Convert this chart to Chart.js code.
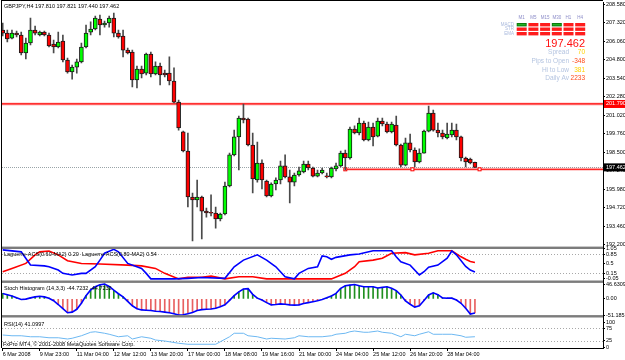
<!DOCTYPE html>
<html lang="en">
<head>
<meta charset="UTF-8">
<title>GBPJPY,H4</title>
<script src="https://cdn.jsdelivr.net/npm/chart.js@4.4.1/dist/chart.umd.min.js"></script>
<style>
  body { margin: 0; background: #fff; }
  .wrap { position: relative; width: 625px; height: 360px; }
</style>
</head>
<body>
<div class="wrap"><canvas id="mt4Chart" width="625" height="360"></canvas></div>
<script>
// GBPJPY H4 candles
const opens = [206.84,206.63,206.29,206.63,206.50,205.27,205.95,206.84,206.50,206.70,
  206.50,205.88,205.68,206.09,204.79,203.97,204.31,204.66,205.68,206.70,
  206.91,207.59,207.18,207.32,207.66,206.63,206.43,205.47,205.34,203.43,
  204.18,203.90,205.20,203.84,204.38,203.90,203.90,203.36,201.92,199.88,
  198.58,195.44,195.24,195.44,194.48,194.35,194.35,193.94,194.28,196.19,
  198.31,199.54,200.83,200.76,198.99,196.60,197.76,196.53,195.51,196.33,
  196.60,197.56,196.81,196.46,196.94,197.15,197.69,197.42,196.87,197.08,
  196.87,196.81,197.35,197.56,198.44,198.10,200.08,199.81,200.49,199.33,
  200.22,199.60,200.63,200.42,199.88,200.35,198.99,197.62,199.13,198.65,
  197.83,198.44,199.94,201.17,200.01,199.81,199.47,199.67,200.01,199.54,
  198.10,198.03,197.81];
const highs = [207.32,206.84,206.84,206.77,206.70,206.29,207.66,207.11,206.77,206.77,
  206.63,206.16,206.70,206.50,204.93,204.45,204.86,205.95,207.18,207.39,
  207.79,207.86,207.45,207.79,208.00,206.84,206.84,205.61,205.47,204.38,
  204.38,205.27,205.34,204.66,204.59,204.11,205.00,204.25,202.06,199.94,
  199.81,195.71,196.60,195.51,194.69,195.58,194.76,194.35,196.46,198.44,
  200.01,200.97,201.79,200.83,199.81,199.19,197.97,196.60,196.40,196.74,
  197.90,198.31,197.28,197.08,197.49,197.90,197.90,197.49,197.28,197.42,
  197.08,197.49,197.76,198.58,198.65,200.22,200.29,200.83,200.63,200.56,
  200.49,200.83,200.83,200.56,200.56,200.97,199.06,199.47,199.74,198.79,
  198.72,200.01,201.65,201.38,200.49,200.01,200.49,200.49,200.42,199.60,
  198.17,198.10,197.821];
const lows = [206.43,206.02,206.23,206.36,205.13,204.86,205.82,206.50,206.43,206.43,
  205.68,205.27,205.61,204.66,203.90,203.49,203.90,204.59,205.61,206.50,
  206.84,206.50,207.04,207.04,206.36,206.29,205.00,205.20,202.95,202.88,
  203.56,203.77,203.63,203.77,203.09,203.63,203.09,201.86,200.01,198.51,
  194.76,192.44,194.76,192.57,194.07,194.14,193.32,193.80,194.21,196.12,
  198.24,197.28,200.49,198.92,195.71,196.46,195.99,195.44,195.44,195.92,
  196.33,196.74,195.03,196.19,196.87,197.08,197.28,196.81,196.81,197.01,
  196.74,196.74,197.22,197.49,197.28,198.03,199.74,199.67,199.26,199.26,
  198.92,199.54,200.29,199.81,199.81,198.92,197.49,197.56,198.51,197.49,
  197.76,198.44,199.88,199.94,199.54,199.40,199.40,199.54,199.33,197.90,
  197.49,197.69,197.44];
const closes = [206.63,206.23,206.63,206.50,205.27,205.95,206.84,206.63,206.70,206.50,
  205.75,205.68,206.02,204.79,203.97,204.31,204.66,205.68,206.63,206.91,
  207.66,207.18,207.32,207.66,206.63,206.36,205.47,205.27,203.43,204.18,
  203.84,205.20,203.84,204.38,203.77,203.77,203.36,201.92,200.15,198.58,
  195.44,195.24,195.44,194.48,194.35,194.33,193.94,194.28,196.19,198.31,
  199.54,200.83,200.70,198.99,196.67,197.76,196.60,195.51,196.33,196.60,
  197.56,196.81,196.46,196.94,197.22,197.69,197.42,196.87,197.08,197.28,
  196.81,197.42,197.56,198.44,198.10,200.08,199.81,200.49,199.33,200.22,
  199.54,200.63,200.42,199.88,200.42,198.99,197.62,199.13,198.65,197.83,
  198.44,199.94,201.17,200.01,199.81,199.54,199.74,200.01,199.54,198.10,
  197.83,197.76,197.462];

// time axis labels (every 8 bars)
const xTickBars = [0,8,16,24,32,40,48,56,64,72,80,88,96];
const xTickLabels = ['6 Mar 2008','9 Mar 23:00','11 Mar 04:00','12 Mar 12:00','13 Mar 20:00',
  '17 Mar 00:00','18 Mar 08:00','19 Mar 16:00','21 Mar 00:00','24 Mar 04:00',
  '25 Mar 12:00','26 Mar 20:00','28 Mar 04:00'];

// price axis labels
const priceTicks = [208.58,207.32,206.06,204.80,203.54,202.28,201.02,199.76,198.50,197.24,195.98,194.72,193.46,192.20];

// Laguerre ACS lines, [bar, value]
const lagFast = [[0,1.0],[4,0.93],[6,0.45],[9,0.42],[10,0.39],[12,0.27],[13,0.15],[15,0.09],[17,0.15],[18,0.15],
  [20,0.39],[21,0.63],[22,0.88],[24,1.02],[25,0.93],[27,0.51],[30,0.33],[31,0.15],[32,-0.05],[37,-0.05],
  [40,-0.03],[43,0],[48,-0.03],[50,0.39],[52,0.63],[55,0.82],[57,0.63],[59,0.39],[61,0.03],[63,-0.05],
  [64,0.15],[66,0.33],[68,0.39],[69,0.78],[70,0.75],[71,0.66],[72,0.73],[75,0.82],[77,0.85],[80,0.97],
  [84,0.97],[85,0.75],[86,0.57],[88,0.45],[90,0.09],[91,0.21],[92,0.37],[94,0.45],[96,0.70],[97,0.96],
  [98,0.82],[100,0.40],[101,0.27],[102,0.20]];
const lagSlow = [[0,0.21],[2,0.33],[5,0.51],[7,0.82],[8,0.93],[10,0.96],[12,0.82],[14,0.61],[17,0.51],[21,0.49],
  [27,0.45],[30,0.42],[33,0.33],[35,0.15],[38,-0.05],[40,0.01],[43,0.01],[45,0.05],[48,-0.05],[51,0.03],
  [54,0.03],[57,-0.05],[71,-0.05],[74,0.15],[76,0.39],[77,0.57],[80,0.63],[82,0.70],[84,0.88],[87,0.90],
  [89,0.82],[92,0.88],[94,0.97],[97,0.97],[99,0.75],[100,0.66],[101,0.58],[102,0.54]];
const lagTicks = [1.05,0.85,0.5,0.15,-0.05];
const lagTickText = ['1.05','0.85','0.5','0.15','-0.05'];
const lagLevels = [0.85,0.15];

// Stoch histogram, one value per bar
const stochHist = [17,13,9,3,-2,-1,3,6,8,6,
  2,-6,-18,-31,-44,-42,-33,-14,10,28,
  38,44,46.6,39,27,16,6,-8,-22,-31,
  -35,-36,-37,-39,-40,-42,-44,-47,-51.2,-50,
  -47,-43,-37,-34,-33,-32,-30,-25,-19,-5,
  10,22,31,32,14,2,-4,-12,-19,-18,
  -16,-17,-19,-20,-19,-15,-12,-9,-6,-2,
  3,9,17,33,41,43,45,41,38,38,
  38,34,36,38,33,26,12,-7,-17,-26,
  -22,-5,12,19,13,3,2,2,-4,-14,
  -30,-48,-44.7];
const stochTicks = [46.6309,0,-51.1858];
const stochTickText = ['46.6309','0.00','-51.1858'];

// RSI(14), [bar, value]
const rsiPts = [[0,48],[2,45],[4,45],[6,41],[8,41],[10,37],[12,37],[14,32],[15,35],[17,45],
  [19,59],[20,61],[22,55],[23,51],[25,41],[27,45],[28,32],[30,41],[32,35],[33,28],
  [35,24],[38,15],[40,11],[46,11],[47,21],[49,41],[50,55],[52,55],[53,45],[55,41],
  [57,32],[58,35],[61,32],[63,37],[64,45],[66,41],[69,41],[71,45],[72,51],[74,55],
  [75,61],[76,64],[78,59],[79,59],[81,64],[82,59],[84,55],[86,41],[87,51],[89,45],
  [90,51],[92,61],[93,51],[95,51],[97,51],[99,45],[100,39],[102,41.1]];
const rsiTicks = [100,75,25,0];
const rsiLevels = [75,25];

// chart objects
const resistLevel = 201.79;
const bidPrice = 197.462;
const trendLevel = 197.33;
const trendMarkBars = [74, 88.5, 103];

// info panel
const tfNames = ['M1','M5','M15','M30','H1','H4'];
const sigRows = ['MACD','STR','EMA'];
const sigUp = [[1,0,0,1,0,0],[0,0,0,0,0,0],[0,0,0,0,0,0]];
const statLabels = ['Spread','Pips to Open','Hi to Low','Daily Av'];
const statValues = ['70','-348','381','2233'];
const statColors = ['#ffd200','#ff4a1a','#ffd200','#ff4a1a'];

const FONT = '"Liberation Sans", Arial, sans-serif';
const bars = opens.map((_, i) => i);

function rightAxis(weight, min, max, vals, fmt) {
  return {
    type: 'linear', position: 'right', stack: 'panes', stackWeight: weight,
    min: min, max: max,
    grid: { drawOnChartArea: false, tickLength: 2, color: '#000' },
    border: { display: true, color: '#000', width: 1 },
    ticks: { font: { family: FONT, size: 5.5 }, color: '#000', padding: 1, autoSkip: false, maxRotation: 0, callback: fmt },
    afterBuildTicks: s => { s.ticks = vals.map(v => ({ value: v })); },
    afterFit: s => { s.width = 22; s.paddingTop = 0; s.paddingBottom = 0; }
  };
}

function hLine(ctx, area, y, color, width, dash) {
  ctx.save();
  ctx.strokeStyle = color;
  ctx.lineWidth = width;
  ctx.setLineDash(dash || []);
  ctx.beginPath();
  ctx.moveTo(area.left, y);
  ctx.lineTo(area.right, y);
  ctx.stroke();
  ctx.restore();
}

const mt4Overlay = {
  id: 'mt4Overlay',
  beforeDraw(chart) {
    const ctx = chart.ctx;
    ctx.save();
    ctx.fillStyle = '#fff';
    ctx.fillRect(0, 0, chart.width, chart.height);
    ctx.restore();
  },
  beforeDatasetsDraw(chart) {
    const ctx = chart.ctx, area = chart.chartArea, s = chart.scales;
    lagLevels.forEach(v => hLine(ctx, area, Math.round(s.yLag.getPixelForValue(v)) + 0.5, '#a8a8a8', 1, [1, 2]));
    rsiLevels.forEach(v => hLine(ctx, area, Math.round(s.yRsi.getPixelForValue(v)) + 0.5, '#a8a8a8', 1, [1, 2]));

    // bid line
    hLine(ctx, area, Math.round(s.yPrice.getPixelForValue(bidPrice)) + 0.5, '#9aa4a8', 1, [1, 1]);
    // resistance line
    const yr = s.yPrice.getPixelForValue(resistLevel);
    hLine(ctx, area, yr, 'rgba(255,0,0,0.25)', 3);
    hLine(ctx, area, yr, '#ff0000', 1.2);
    // horizontal trend line from bar 74
    const yt = s.yPrice.getPixelForValue(trendLevel);
    const x0 = s.x.getPixelForValue(trendMarkBars[0]);
    ctx.save();
    ctx.strokeStyle = 'rgba(255,0,0,0.25)'; ctx.lineWidth = 3;
    ctx.beginPath(); ctx.moveTo(x0, yt); ctx.lineTo(area.right, yt); ctx.stroke();
    ctx.strokeStyle = '#ff0000'; ctx.lineWidth = 1;
    ctx.beginPath(); ctx.moveTo(x0, yt); ctx.lineTo(area.right, yt); ctx.stroke();
    ctx.fillStyle = '#fff'; ctx.strokeStyle = '#ff0000';
    trendMarkBars.forEach(b => {
      const x = s.x.getPixelForValue(b);
      ctx.fillRect(x - 1.5, yt - 1.5, 3, 3);
      ctx.strokeRect(x - 1.5, yt - 1.5, 3, 3);
    });
    ctx.restore();
  },
  afterDraw(chart) {
    const ctx = chart.ctx, area = chart.chartArea, s = chart.scales;
    ctx.save();
    // pane separators
    ctx.fillStyle = '#7c7c7c';
    [s.yLag.top, s.yStoch.top, s.yRsi.top].forEach(t => ctx.fillRect(area.left, t - 1.2, area.right - area.left, 2.4));
    // frame
    ctx.fillStyle = '#000';
    ctx.fillRect(area.left - 1, 0, 1, area.bottom);
    ctx.fillRect(area.left - 1, 0, area.right - area.left + 1, 1);

    // price boxes on the axis
    ctx.font = '5.5px ' + FONT;
    ctx.textBaseline = 'middle';
    ctx.textAlign = 'left';
    const yr = s.yPrice.getPixelForValue(resistLevel);
    ctx.fillStyle = '#ff0000';
    ctx.fillRect(area.right + 1, yr - 4, 22, 8);
    ctx.fillStyle = '#fff';
    ctx.fillText(resistLevel.toFixed(3), area.right + 3, yr);
    const yb = s.yPrice.getPixelForValue(bidPrice);
    ctx.fillStyle = '#000';
    ctx.fillRect(area.right + 1, yb - 4, 22, 8);
    ctx.fillStyle = '#fff';
    ctx.fillText(bidPrice.toFixed(3), area.right + 3, yb);

    // pane captions
    ctx.fillStyle = '#000';
    ctx.fillText('GBPJPY,H4 197.810 197.821 197.440 197.462', 4, 6);
    ctx.fillText('Laguerre-ACS(0.60-MA2) 0.20  Laguerre-ACS(0.80-MA2) 0.54', 4, s.yLag.top + 6.5);
    ctx.fillText('Stoch Histogram (14,3,3) -44.7232 -44.7232', 4, s.yStoch.top + 6.5);
    ctx.fillText('RSI(14) 41.0997', 4, s.yRsi.top + 8);
    ctx.fillText('FxPro MT4, \u00a9 2001-2008 MetaQuotes Software Corp.', 3, area.bottom - 3.5);

    // signal matrix
    ctx.font = '4.5px ' + FONT;
    ctx.textAlign = 'center';
    ctx.fillStyle = '#8c8cc8';
    tfNames.forEach((t, k) => ctx.fillText(t, 521.7 + k * 11.7, 17.5));
    ctx.textAlign = 'right';
    ctx.fillStyle = '#a8b8dc';
    sigRows.forEach((r, j) => ctx.fillText(r, 514, 24.7 + j * 4.5));
    sigRows.forEach((r, j) => {
      tfNames.forEach((t, k) => {
        const x = 516.7 + k * 11.7, y = 23 + j * 4.5;
        ctx.fillStyle = sigUp[j][k] ? '#0d7a0d' : '#ff1c1c';
        ctx.fillRect(x, y, 10, 3.4);
        if (sigUp[j][k]) { ctx.fillStyle = '#22b022'; ctx.fillRect(x + 1, y + 1, 8, 1.4); }
      });
    });

    // last price and stats
    ctx.font = '11px ' + FONT;
    ctx.fillStyle = '#ff1010';
    ctx.fillText('197.462', 585, 43.5);
    ctx.font = '6.5px ' + FONT;
    statLabels.forEach((lbl, k) => {
      const y = 52.3 + k * 8.8;
      ctx.fillStyle = '#b4c4e0';
      ctx.textAlign = 'right';
      ctx.fillText(lbl, 569, y);
      ctx.fillStyle = statColors[k];
      ctx.fillText(statValues[k], 585, y);
    });
    ctx.restore();
  }
};

new Chart(document.getElementById('mt4Chart'), {
  type: 'bar',
  data: {
    datasets: [
      {
        label: 'body', order: 0, grouped: false, yAxisID: 'yPrice',
        data: bars.map(i => ({ x: i, y: [opens[i], closes[i]] })),
        backgroundColor: bars.map(i => closes[i] > opens[i] ? '#00ff00' : '#ff0000'),
        borderColor: '#1a1a1a', borderWidth: 1, borderSkipped: false,
        barThickness: 4, minBarLength: 1
      },
      {
        label: 'wick', order: 1, grouped: false, yAxisID: 'yPrice',
        data: bars.map(i => ({ x: i, y: [lows[i], highs[i]] })),
        backgroundColor: '#4a4a4a', barThickness: 1
      },
      {
        type: 'line', label: 'lagFast', order: 0, yAxisID: 'yLag',
        data: lagFast.map(p => ({ x: p[0], y: p[1] })),
        borderColor: '#0000ff', borderWidth: 1.6, pointRadius: 0, tension: 0
      },
      {
        type: 'line', label: 'lagSlow', order: 1, yAxisID: 'yLag',
        data: lagSlow.map(p => ({ x: p[0], y: p[1] })),
        borderColor: '#ff0000', borderWidth: 1.6, pointRadius: 0, tension: 0
      },
      {
        type: 'line', label: 'stochLine', order: 0, yAxisID: 'yStoch',
        data: bars.map(i => ({ x: i, y: stochHist[i] })),
        borderColor: '#0000ff', borderWidth: 1.6, pointRadius: 0, tension: 0
      },
      {
        label: 'stochHist', order: 2, grouped: false, yAxisID: 'yStoch',
        data: bars.map(i => ({ x: i, y: stochHist[i] })),
        backgroundColor: bars.map(i => stochHist[i] >= 0 ? '#1f8f1f' : '#e86060'),
        barThickness: 1
      },
      {
        type: 'line', label: 'rsi', order: 0, yAxisID: 'yRsi',
        data: rsiPts.map(p => ({ x: p[0], y: p[1] })),
        borderColor: '#6db8f2', borderWidth: 1, pointRadius: 0, tension: 0
      }
    ]
  },
  options: {
    responsive: false,
    animation: false,
    devicePixelRatio: 1,
    layout: { padding: { left: 2, top: 2, right: 0, bottom: 0 } },
    plugins: { legend: { display: false }, tooltip: { enabled: false } },
    scales: {
      x: {
        type: 'linear', min: -0.15, max: 129.66, offset: false,
        grid: { drawOnChartArea: false, offset: false, tickLength: 3, color: '#000' },
        border: { display: true, color: '#000' },
        ticks: {
          align: 'start', autoSkip: false, maxRotation: 0, padding: 0,
          font: { family: FONT, size: 5.5 }, color: '#000',
          callback: (v, idx) => xTickLabels[idx]
        },
        afterBuildTicks: s => { s.ticks = xTickBars.map(v => ({ value: v })); },
        afterFit: s => { s.height = 12; s.paddingLeft = 0; s.paddingRight = 0; }
      },
      yPrice: rightAxis(245.8, 191.972, 208.751, priceTicks, v => v.toFixed(3)),
      yLag: rightAxis(33.9, -0.152, 1.076, lagTicks, (v, idx) => lagTickText[idx]),
      yStoch: rightAxis(34.6, -55.1, 53.9, stochTicks, (v, idx) => stochTickText[idx]),
      yRsi: rightAxis(31.7, -4, 122.8, rsiTicks, v => String(v))
    }
  },
  plugins: [mt4Overlay]
});
</script>
</body>
</html>
